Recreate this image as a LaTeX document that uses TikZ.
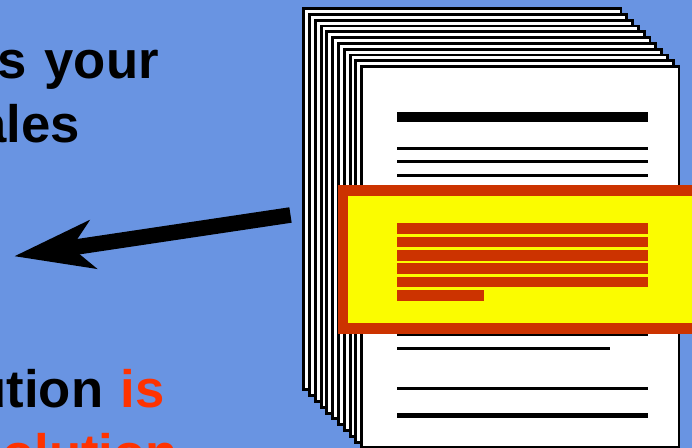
\documentclass[tikz,border=0pt]{standalone}
\usepackage{fontspec}
\setmainfont[WordSpace=1.2]{Liberation Sans}
\usetikzlibrary{arrows.meta}
\definecolor{slideblue}{HTML}{6994E2}
\definecolor{boxred}{HTML}{CC3300}
\definecolor{wordred}{HTML}{FF3300}
\definecolor{boxyellow}{HTML}{FBFC00}
\tikzset{
    sheet/.style={rectangle, draw=black, fill=white, line width=2.2pt, inner sep=0pt, minimum width=238pt, minimum height=286pt},
    words/.style={anchor=base east, inner sep=0pt, font=\fontsize{39.5}{47}\selectfont\bfseries},
    bar/.style={black, line width=#1}
}

\begin{document}
\begin{tikzpicture}[x=0.75pt, y=-0.75pt]
    % Background
    \useasboundingbox (0,0) rectangle (692,448);
    \fill[slideblue] (0,0) rectangle (692,448);
    \clip (0,0) rectangle (692,448);

    % Draw pile of sheets
    \foreach \i in {0,...,10} {
        \node[sheet] (sheet\i) at ({462.3+5.8*\i},{199.3+5.8*\i}) {};
    }

    % Lines on the top sheet
    \draw[bar=7.9pt] (397,117) -- (648,117);
    \draw[bar=2pt] (397,148.5) -- (648,148.5);
    \draw[bar=2pt] (397,161.8) -- (648,161.8);
    \draw[bar=2pt] (397,175.2) -- (648,175.2);
    \draw[bar=2pt] (397,335) -- (648,335);
    \draw[bar=2pt] (397,348.5) -- (609.5,348.5);
    \draw[bar=2pt] (397,388.5) -- (648,388.5);
    \draw[bar=4.2pt] (397,415.5) -- (648,415.5);

    % Highlight box
    \draw[draw=boxred, fill=boxyellow, line width=7.9pt] (343,190.5) rectangle (710,328.5);
    \foreach \i in {0,...,4} {
        \fill[boxred] (397,{223.3+13.33*\i}) rectangle (648,{234+13.33*\i});
    }
    \fill[boxred] (397,290) rectangle (484.3,300.8);

    % Arrow
    \coordinate (tail) at (290.5,215);
    \coordinate (head) at (14,256.3);
    \draw[line width=11.7pt, -{Stealth[length=59pt, width=35.7pt, inset=15.4pt]}] (tail) -- (head);

    % Labels
    \node[words] (line1) at (159,79) {s your};
    \node[words] (line2) at (80,143) {ales};
    \node[words] (line3) at (165,407) {ution \textcolor{wordred}{is}};
    \node[words, text=wordred] (line4) at (178,471) {olution};
\end{tikzpicture}
\end{document}
